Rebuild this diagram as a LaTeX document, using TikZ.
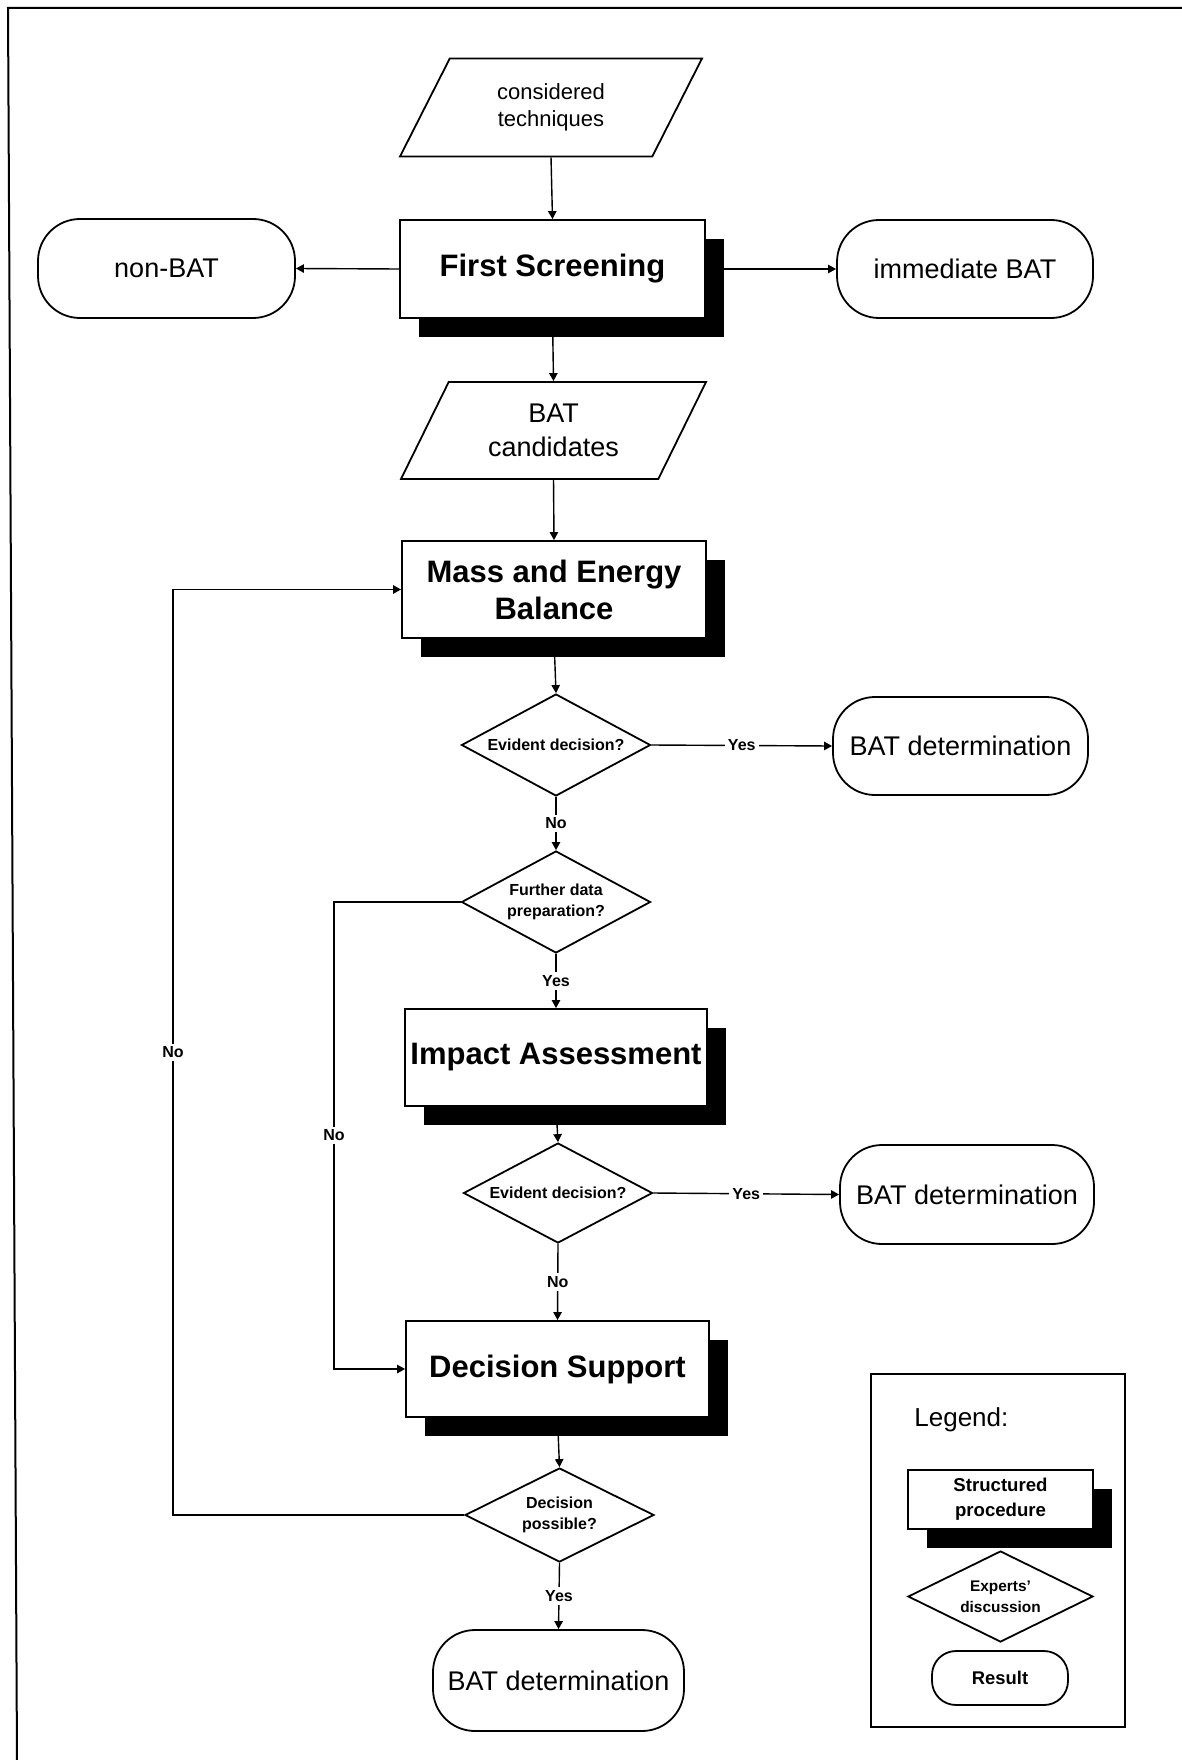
\documentclass[tikz,border=0pt]{standalone}
\usepackage{fontspec}
\setmainfont{Liberation Sans}
\usetikzlibrary{shapes,arrows.meta,positioning,calc,shadows}

\begin{document}
\begin{tikzpicture}[x=0.5pt, y=-0.5pt,
    proc/.style={draw, fill=white, line width=0.9pt, minimum width=152pt, minimum height=48.5pt,
        inner sep=2pt, align=center, font=\fontsize{15.5}{18.5}\selectfont\bfseries,
        drop shadow={shadow xshift=9.5pt, shadow yshift=-9.5pt, fill=black, opacity=1}},
    result/.style={draw, line width=0.9pt, rounded corners=21pt, minimum width=127.5pt,
        minimum height=49pt, font=\fontsize{13.5}{16}\selectfont},
    datain/.style={draw, trapezium, trapezium stretches body, minimum width=151pt,
        minimum height=49pt, inner sep=1pt, align=center, line width=0.9pt},
    query/.style={draw, diamond, aspect=1.85, minimum width=94.5pt, minimum height=51pt,
        inner sep=0pt, align=center, line width=0.9pt, font=\fontsize{8}{10.8}\selectfont\bfseries},
    lbl/.style={fill=white, inner sep=1.5pt, font=\fontsize{8}{10}\selectfont\bfseries},
    arr/.style={-{Triangle[length=4pt,width=4.2pt]}, line width=0.7pt}]
    \useasboundingbox (0,0) rectangle (1182,1760);

    % Frame
    \draw[line width=1pt] (17,1760) -- (8,8) -- (1182,8);

    % Input and first screening
    \node[datain, trapezium left angle=46, trapezium right angle=134,
        font=\fontsize{11}{13.5}\selectfont] (tech) at (551,107.5) {considered\\techniques};
    \node[proc, minimum width=152.5pt, minimum height=49pt] (screen) at (552.5,269) {First Screening};
    \node[result, minimum width=128.5pt, minimum height=49.5pt] (nonbat) at (166.5,268.5) {non-BAT};
    \node[result, minimum width=128pt] (immbat) at (965,269) {immediate BAT};
    \node[datain, trapezium left angle=50, trapezium right angle=130, minimum width=152.5pt,
        minimum height=48.5pt, font=\fontsize{13.5}{17}\selectfont] (cand) at (553.5,430.5) {BAT\\candidates};

    % Mass and energy balance
    \node[proc] (mass) at (554,589.5) {Mass and Energy\\Balance};
    \node[query] (evid1) at (556,745) {Evident decision?};
    \node[result] (bat1) at (960.5,746) {BAT determination};
    \node[query] (data) at (556,902) {Further data\\preparation?};

    % Impact assessment
    \node[proc, minimum width=151pt] (impact) at (556,1057.5) {Impact Assessment};
    \node[query, minimum height=50pt] (evid2) at (558,1193) {Evident decision?};
    \node[result, minimum width=127pt, minimum height=49.5pt] (bat2) at (967,1194.5) {BAT determination};

    % Decision support
    \node[proc, minimum width=151.5pt, minimum height=48pt] (support) at (557.5,1369) {Decision Support};
    \node[query, minimum height=47pt] (possible) at (559.5,1515) {Decision\\possible?};
    \node[result, minimum width=125.5pt, minimum height=50.5pt] (bat3) at (558.5,1680.5) {BAT determination};

    % Loop lines
    \coordinate (loopout) at (173,0);
    \coordinate (loopin) at (334,0);

    % Connectors
    \draw[arr] (tech.south) -- (screen.north);
    \draw[arr] (screen.west) -- (nonbat.east);
    \draw[arr] (screen.east) -- (immbat.west);
    \draw[arr] (screen.south) -- (cand.north);
    \draw[arr] (cand.south) -- (mass.north);
    \draw[arr] (mass.south) -- (evid1.north);
    \draw[arr] (evid1.east) -- node[lbl] {Yes} (bat1.west);
    \draw[arr] (evid1.south) -- node[lbl] {No} (data.north);
    \draw[arr] (data.south) -- node[lbl] {Yes} (impact.north);
    \draw[arr] (data.west) -| node[lbl, pos=0.75] {No} (support.west -| loopin) -- (support.west);
    \draw[arr] (impact.south) -- (evid2.north);
    \draw[arr] (evid2.east) -- node[lbl] {Yes} (bat2.west);
    \draw[arr] (evid2.south) -- node[lbl] {No} (support.north);
    \draw[arr] (support.south) -- (possible.north);
    \draw[arr] (possible.south) -- node[lbl] {Yes} (bat3.north);
    \draw[arr] (possible.west) -| node[lbl, pos=0.75] {No} (mass.west -| loopout) -- (mass.west);

    % Legend
    \draw[line width=0.9pt] (871,1374) rectangle (1125,1727);
    \node[anchor=west, inner sep=0pt, font=\fontsize{13}{15}\selectfont] (legend) at (914,1420) {Legend:};
    \node[proc, minimum width=92.5pt, minimum height=29.5pt, font=\fontsize{9.3}{12.5}\selectfont\bfseries] (lproc) at (1000.5,1499.5) {Structured\\procedure};
    \node[query, minimum width=92.5pt, minimum height=45.5pt, font=\fontsize{7.7}{10.5}\selectfont\bfseries] (ldisc) at (1000.5,1596.5) {Experts'\\discussion};
    \node[result, rounded corners=12pt, minimum width=68pt, minimum height=27pt, font=\fontsize{9.2}{11}\selectfont\bfseries] (lres) at (1000,1678) {Result};
\end{tikzpicture}
\end{document}
